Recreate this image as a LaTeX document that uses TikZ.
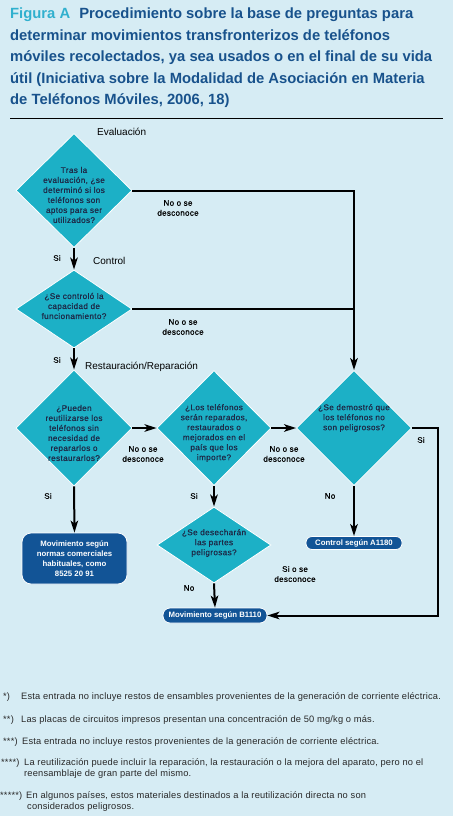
\documentclass[tikz,border=0pt]{standalone}
\usepackage{fontspec}
\setmainfont{Liberation Sans}
\newfontfamily\flowfont[LetterSpace=4,FakeBold=0.8]{Liberation Sans}
\newfontfamily\notefont[LetterSpace=2]{Liberation Sans}
\usetikzlibrary{arrows.meta,shapes.geometric,positioning}

\definecolor{bgblue}{RGB}{214,236,244}
\definecolor{qteal}{RGB}{28,176,198}
\definecolor{boxblue}{RGB}{18,84,150}
\definecolor{titleblue}{RGB}{24,82,140}
\definecolor{titleteal}{RGB}{48,176,206}
\definecolor{qink}{RGB}{28,42,72}
\definecolor{fngray}{RGB}{40,40,40}

\begin{document}
\begin{tikzpicture}[
  x=1pt,y=-1pt,
  >={Stealth[length=12pt,width=7.5pt,inset=3pt]},
  ques/.style={diamond,fill=qteal,draw=white,line width=.8pt,inner sep=0pt},
  qtext/.style={font=\flowfont\fontsize{8.2}{10}\selectfont,text=qink,align=center,inner sep=0pt},
  endbox/.style={fill=boxblue,draw=white,line width=.8pt,text=white,align=center,inner sep=0pt,
    font=\bfseries\fontsize{7.8}{10}\selectfont},
  conn/.style={->,line width=2pt},
  lab/.style={font=\flowfont\fontsize{8}{10}\selectfont,align=center,inner sep=0pt},
  phase/.style={font=\fontsize{10}{12}\selectfont,anchor=base west,inner sep=0pt},
  fn/.style={font=\notefont\fontsize{9.3}{11}\selectfont,text=fngray,anchor=base west,inner sep=0pt}
]
\fill[bgblue] (0,0) rectangle (453,816);
\useasboundingbox (0,0) rectangle (453,816);

% title
\node[anchor=north west,inner sep=0pt,align=left,text=titleblue,
  font=\bfseries\fontsize{14.8}{21.4}\selectfont] (title) at (10,8)
  {\textcolor{titleteal}{Figura A}\hspace{5pt} Procedimiento sobre la base de preguntas para\\
   determinar movimientos transfronterizos de teléfonos\\
   móviles recolectados, ya sea usados o en el final de su vida\\
   útil (Iniciativa sobre la Modalidad de Asociación en Materia\\
   de Teléfonos Móviles, 2006, 18)};
\draw[line width=.8pt] (10,118) -- (443,118);

% questions
\node[phase] (evalh) at (97,135.5) {Evaluación};
\node[ques,minimum width=116pt,minimum height=114pt] (eval) at (74,190.5) {};
\node[qtext] (evalq) at (74,195) {Tras la\\evaluación, ¿se\\determinó si los\\teléfonos son\\aptos para ser\\utilizados?};

\node[phase] (ctrlh) at (93,264) {Control};
\node[ques,minimum width=116pt,minimum height=78pt] (ctrl) at (74,309) {};
\node[qtext] (ctrlq) at (74,306) {¿Se controló la\\capacidad de\\funcionamiento?};

\node[phase] (resth) at (85,369) {Restauración/Reparación};
\node[ques,minimum width=116pt,minimum height=116pt] (reuse) at (74,428) {};
\node[qtext] (reuseq) at (74,433) {¿Pueden\\reutilizarse los\\teléfonos sin\\necesidad de\\repararlos o\\restaurarlos?};

\node[ques,minimum width=114pt,minimum height=115pt] (repair) at (214,428) {};
\node[qtext] (repairq) at (214,433) {¿Los teléfonos\\serán reparados,\\restaurados o\\mejorados en el\\país que los\\importe?};

\node[ques,minimum width=115pt,minimum height=115pt] (safe) at (354,428) {};
\node[qtext] (safeq) at (354,418) {¿Se demostró que\\los teléfonos no\\son peligrosos?};

\node[ques,minimum width=114pt,minimum height=76pt] (discard) at (214,545) {};
\node[qtext] (discardq) at (214,543) {¿Se desecharán\\las partes\\peligrosas?};

% outcomes
\node[endbox,rounded corners=9pt,minimum width=105pt,minimum height=51pt] (trade) at (74.5,558.5)
  {Movimiento según\\normas comerciales\\habituales, como\\8525 20 91};
\node[endbox,rounded corners=6pt,minimum width=96pt,minimum height=13pt] (a1180) at (354,543) {Control según A1180};
\node[endbox,rounded corners=7pt,minimum width=104pt,minimum height=15pt] (b1110) at (215,615.5) {Movimiento según B1110};

% connectors
\draw[conn] (eval.south) -- (ctrl.north);
\draw[conn] (ctrl.south) -- (reuse.north);
\draw[conn] (reuse.east) -- (repair.west);
\draw[conn] (repair.east) -- (safe.west);
\draw[conn] (reuse.south) -- (trade.north);
\draw[conn] (repair.south) -- (discard.north);
\draw[conn] (safe.south) -- (a1180.north);
\draw[conn] (discard.south) -- (b1110.north);
\draw[conn] (eval.east) -| (safe.north);
\coordinate (join) at (ctrl.east -| safe.north);
\draw[line width=2pt] (ctrl.east) -- (join);
\coordinate (bend) at ([xshift=26pt]safe.east);
\draw[conn] (safe.east) -- (bend) |- (b1110.east);

% labels
\node[lab] (no1) at (178,208) {No o se\\desconoce};
\node[lab] (no2) at (183,327) {No o se\\desconoce};
\node[lab] (no3) at (143,454) {No o se\\desconoce};
\node[lab] (no4) at (284,454) {No o se\\desconoce};
\node[lab] (si5) at (295,574) {Si o se\\desconoce};
\node[lab] (si1) at (57,258) {Si};
\node[lab] (si2) at (57,360) {Si};
\node[lab] (si3) at (48,496) {Si};
\node[lab] (si4) at (194,496) {Si};
\node[lab] (si6) at (421,440) {Si};
\node[lab] (no5) at (330,496) {No};
\node[lab] (no6) at (189,588) {No};

% footnotes
\node[fn] (m1) at (3,699) {*)};
\node[fn] (f1) at (21,699) {Esta entrada no incluye restos de ensambles provenientes de la generación de corriente eléctrica.};
\node[fn] (m2) at (3,722) {**)};
\node[fn] (f2) at (21,722) {Las placas de circuitos impresos presentan una concentración de 50 mg/kg o más.};
\node[fn] (m3) at (3,744) {***)};
\node[fn] (f3) at (22,744) {Esta entrada no incluye restos provenientes de la generación de corriente eléctrica.};
\node[fn] (m4) at (1,765) {****)};
\node[fn] (f4) at (24,765) {La reutilización puede incluir la reparación, la restauración o la mejora del aparato, pero no el};
\node[fn] (f4b) at (24,776) {reensamblaje de gran parte del mismo.};
\node[fn] (m5) at (0,798) {*****)};
\node[fn] (f5) at (26,798) {En algunos países, estos materiales destinados a la reutilización directa no son};
\node[fn] (f5b) at (27,809) {considerados peligrosos.};
\end{tikzpicture}
\end{document}
